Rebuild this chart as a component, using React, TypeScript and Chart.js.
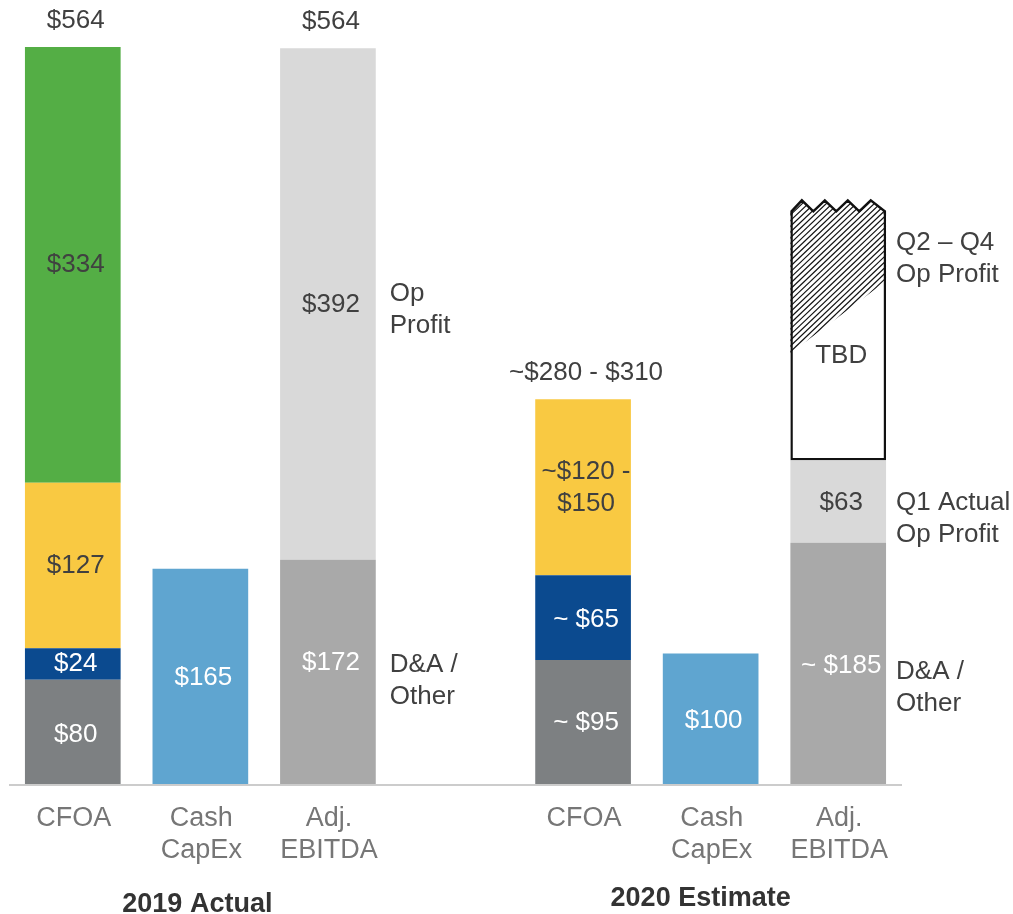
import React, { useEffect, useRef } from "react";
import { Chart, registerables } from "chart.js";

Chart.register(...registerables);

// ---- data ----
const categories = [["CFOA"], ["Cash", "CapEx"], ["Adj.", "EBITDA"], [""], ["CFOA"], ["Cash", "CapEx"], ["Adj.", "EBITDA"]];
const groupTitles = ["2019 Actual", "2020 Estimate"];

const baseValues = [80, 165, 172, null, 95, 100, 185];
const secondValues = [24, null, 392, null, 65, null, 63];
const thirdValues = [127, null, null, null, 135, null, null];
const fourthValues = [334, null, null, null, null, null, null];
const tbdValues = [null, null, null, null, null, null, 191];

const baseLabels = ["$80", "$165", "$172", "", "~ $95", "$100", "~ $185"];
const secondLabels = ["$24", "", "$392", "", "~ $65", "", "$63"];
const thirdLabels = ["$127", "", "", "", "~$120 -\n$150", "", ""];
const fourthLabels = ["$334", "", "", "", "", "", ""];
const tbdLabels = ["", "", "", "", "", "", "TBD"];
const totalLabels = ["$564", "", "$564", "", "~$280 - $310", "", ""];

// side annotations: [datasetIndex, categoryIndex, text]
const sideNotes: [number, number, string][] = [
  [1, 2, "Op\nProfit"],
  [0, 2, "D&A /\nOther"],
  [4, 6, "Q2 – Q4\nOp Profit"],
  [1, 6, "Q1 Actual\nOp Profit"],
  [0, 6, "D&A /\nOther"],
];

// ---- styles ----
const FONT = '"Liberation Sans", Arial, sans-serif';
const DARK = "#404040";
const WHITE = "#ffffff";
const baseColors = ["#7d8082", "#5fa5d0", "#a9a9a9", "#ffffff", "#7d8082", "#5fa5d0", "#a9a9a9"];
const secondColors = ["#0b4a8f", "#ffffff", "#d9d9d9", "#ffffff", "#0b4a8f", "#ffffff", "#d9d9d9"];
const thirdColors = ["#f9c942", "#ffffff", "#ffffff", "#ffffff", "#f9c942", "#ffffff", "#ffffff"];
const fourthColors = ["#54ae45", "#54ae45", "#54ae45", "#54ae45", "#54ae45", "#54ae45", "#54ae45"];

const labelColors = [
  [WHITE, WHITE, WHITE, DARK, WHITE, WHITE, WHITE],
  [WHITE, DARK, DARK, DARK, WHITE, DARK, DARK],
  [DARK, DARK, DARK, DARK, DARK, DARK, DARK],
  [DARK, DARK, DARK, DARK, DARK, DARK, DARK],
  [DARK, DARK, DARK, DARK, DARK, DARK, DARK],
];
const labelDy = [
  [3, 1, -9, 0, 1, 2, 2],
  [0, 0, 1, 0, 2, 0, 1],
  [0, 0, 0, 0, 1, 0, 0],
  [0, 0, 0, 0, 0, 0, 0],
  [0, 0, 0, 0, 0, 0, 20],
];
const sideDy = [6, 9, -77, 17, 24];
const sideDx = [14, 14, 10, 10, 10];

const allLabels = [baseLabels, secondLabels, thirdLabels, fourthLabels, tbdLabels];

function drawLines(ctx: CanvasRenderingContext2D, text: string, x: number, yCenter: number, lh: number) {
  const lines = text.split("\n");
  const start = yCenter - ((lines.length - 1) * lh) / 2;
  lines.forEach((l, k) => ctx.fillText(l, x, start + k * lh));
}

const annotatePlugin = {
  id: "annotate",
  afterDatasetsDraw(chart: any) {
    const ctx: CanvasRenderingContext2D = chart.ctx;
    const xs = chart.scales.x;
    const ys = chart.scales.y;
    const area = chart.chartArea;
    ctx.save();

    // baseline
    ctx.strokeStyle = "#cccccc";
    ctx.lineWidth = 2;
    ctx.beginPath();
    ctx.moveTo(area.left, ys.getPixelForValue(0) + 1);
    ctx.lineTo(area.right, ys.getPixelForValue(0) + 1);
    ctx.stroke();

    // TBD bar: zigzag top and hatching
    const tbdMeta = chart.getDatasetMeta(4);
    tbdMeta.data.forEach((el: any, i: number) => {
      if (tbdValues[i] == null) return;
      const left = el.x - el.width / 2;
      const right = el.x + el.width / 2;
      const top = el.y;
      const h = el.base - el.y;
      const w = right - left;
      const amp = 11;
      const peaks = [0.12, 0.36, 0.6, 0.84];
      const valleys = [0.24, 0.48, 0.72];
      const pts: [number, number][] = [[left, top]];
      peaks.forEach((p, k) => {
        pts.push([left + p * w, top - amp]);
        if (k < valleys.length) pts.push([left + valleys[k] * w, top]);
      });
      pts.push([right, top]);
      ctx.beginPath();
      ctx.moveTo(left, top + 2);
      pts.forEach(([px, py]) => ctx.lineTo(px, py));
      ctx.lineTo(right, top + 2);
      ctx.closePath();
      ctx.fillStyle = "#ffffff";
      ctx.fill();
      const diagL = top + 0.57 * h;
      const diagR = top + 0.28 * h;
      ctx.save();
      ctx.beginPath();
      ctx.moveTo(left, diagL);
      pts.forEach(([px, py]) => ctx.lineTo(px, py));
      ctx.lineTo(right, diagR);
      ctx.closePath();
      ctx.clip();
      ctx.strokeStyle = "#111111";
      ctx.lineWidth = 1.2;
      const span = diagL - (top - amp);
      for (let x0 = left - span - 10; x0 < right + 10; x0 += 6) {
        ctx.beginPath();
        ctx.moveTo(x0, diagL + 5);
        ctx.lineTo(x0 + span + 20, diagL + 5 - (span + 20) * 0.95);
        ctx.stroke();
      }
      ctx.restore();
      ctx.strokeStyle = "#111111";
      ctx.lineWidth = 2.5;
      ctx.lineJoin = "miter";
      ctx.beginPath();
      ctx.moveTo(left + 1.25, top + 3);
      pts.forEach(([px, py], k) => {
        const ax = k === 0 ? left + 1.25 : k === pts.length - 1 ? right - 1.25 : px;
        ctx.lineTo(ax, py);
      });
      ctx.lineTo(right - 1.25, top + 3);
      ctx.stroke();
    });

    // segment labels
    ctx.textAlign = "center";
    ctx.textBaseline = "middle";
    ctx.font = `26px ${FONT}`;
    allLabels.forEach((labels, di) => {
      const meta = chart.getDatasetMeta(di);
      meta.data.forEach((el: any, i: number) => {
        const t = labels[i];
        if (!t) return;
        ctx.fillStyle = labelColors[di][i];
        drawLines(ctx, t, el.x + 3, (el.y + el.base) / 2 + labelDy[di][i], 32);
      });
    });

    // totals above bars
    ctx.fillStyle = DARK;
    totalLabels.forEach((t, i) => {
      if (!t) return;
      let topY = Infinity;
      chart.data.datasets.forEach((_: any, di: number) => {
        const el = chart.getDatasetMeta(di).data[i];
        const v = chart.data.datasets[di].data[i];
        if (el && v != null) topY = Math.min(topY, el.y);
      });
      ctx.fillText(t, xs.getPixelForValue(i) + 3, topY - 26);
    });

    // side notes
    ctx.textAlign = "left";
    sideNotes.forEach(([di, i, t], k) => {
      const el = chart.getDatasetMeta(di).data[i];
      drawLines(ctx, t, el.x + el.width / 2 + sideDx[k], (el.y + el.base) / 2 + sideDy[k], 32);
    });

    // category labels
    ctx.textAlign = "center";
    ctx.font = `27px ${FONT}`;
    ctx.fillStyle = "#767676";
    const base = ys.getPixelForValue(0);
    categories.forEach((lines, i) => {
      lines.forEach((l, k) => ctx.fillText(l, xs.getPixelForValue(i) + 1, base + 35 + k * 32));
    });

    // group titles
    ctx.font = `bold 27px ${FONT}`;
    ctx.fillStyle = "#333333";
    ctx.fillText(groupTitles[0], xs.getPixelForValue(1) - 3, base + 121);
    ctx.fillText(groupTitles[1], xs.getPixelForValue(5) - 10, base + 115);

    ctx.restore();
  },
};

export default function App() {
  const ref = useRef<HTMLCanvasElement>(null);
  useEffect(() => {
    if (!ref.current) return;
    const chart = new Chart(ref.current, {
      type: "bar",
      data: {
        labels: categories.map((c) => c.join(" ")),
        datasets: [
          { label: "Base", data: baseValues, backgroundColor: baseColors, borderWidth: 0 },
          { label: "Second", data: secondValues, backgroundColor: secondColors, borderWidth: 0 },
          { label: "Third", data: thirdValues, backgroundColor: thirdColors, borderWidth: 0 },
          { label: "Fourth", data: fourthValues, backgroundColor: fourthColors, borderWidth: 0 },
          {
            label: "Q2 – Q4 TBD",
            data: tbdValues,
            backgroundColor: "#ffffff",
            borderColor: "#111111",
            borderWidth: 2.5,
            borderSkipped: "top",
          },
        ] as any,
      },
      options: {
        animation: false,
        responsive: false,
        layout: { padding: { left: 9, right: 111, top: 47, bottom: 130 } },
        plugins: { legend: { display: false }, tooltip: { enabled: false } },
        datasets: { bar: { barPercentage: 0.75, categoryPercentage: 1 } },
        scales: {
          x: { display: false, stacked: true },
          y: { display: false, stacked: true, min: 0, max: 565 },
        },
      } as any,
      plugins: [annotatePlugin],
    });
    return () => chart.destroy();
  }, []);
  return (
    <div style={{ position: "absolute", left: 0, top: 0, width: 1013, height: 914, background: "#ffffff" }}>
      <canvas ref={ref} width={1013} height={914} style={{ display: "block" }} />
    </div>
  );
}
